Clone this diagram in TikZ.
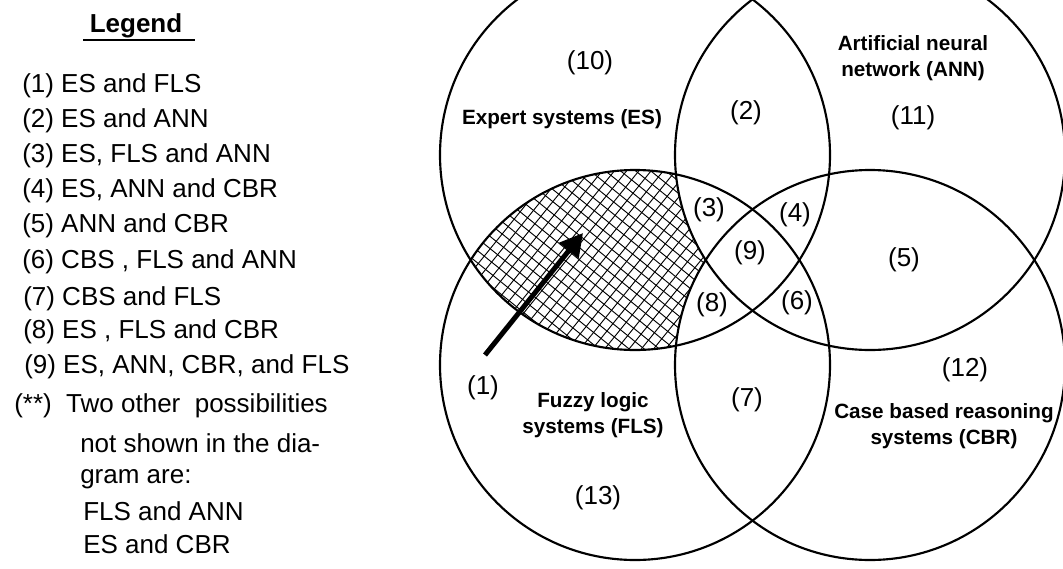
\documentclass[tikz,border=0pt]{standalone}
\usepackage{fontspec}
\setmainfont{Liberation Sans}
\usetikzlibrary{arrows.meta}
\begin{document}
\begin{tikzpicture}[x=0.75pt,y=-0.75pt,
  setcircle/.style={draw=black, line width=1.6pt},
  region/.style={font=\fontsize{19.5}{23}\selectfont, inner sep=0pt},
  setname/.style={font=\bfseries\fontsize{15.5}{19.5}\selectfont, align=center, inner sep=0pt},
  legendline/.style={font=\fontsize{19.5}{23}\selectfont, anchor=base west, inner sep=0pt},
  hatchline/.style={line width=0.7pt},
]
\useasboundingbox (0,0) rectangle (1063,568);
\def\R{146.25pt}
\coordinate (ES)  at (635,155);
\coordinate (ANN) at (870,155);
\coordinate (FLS) at (635,365);
\coordinate (CBR) at (870,365);

% cross-hatched part shared only by ES and FLS
\begin{scope}
  \clip (ES) circle (\R);
  \clip (FLS) circle (\R);
  \begin{scope}[shift={(640,260)}, rotate=-39]
    \foreach \i in {-35,...,35} {
      \draw[hatchline] (\i*9.5,-300) -- (\i*9.5,300);
      \draw[hatchline] (-300,\i*9.5) -- (300,\i*9.5);
    }
  \end{scope}
  \fill[white] (ANN) circle (\R);
  \fill[white] (CBR) circle (\R);
\end{scope}

% the four sets
\foreach \c in {ES,ANN,FLS,CBR}
  \draw[setcircle] (\c) circle (\R);

% arrow pointing into the hatched area
\coordinate (arrowtail) at (485,355);
\coordinate (arrowtip)  at (583,233);
\draw[line width=3.75pt, -{Triangle[length=17pt,width=18pt]}] (arrowtail) -- (arrowtip);

% set names
\node[setname] (nES)  at (562,119) {Expert systems (ES)};
\node[setname] (nANN) at (913,58)  {Artificial neural\\network (ANN)};
\node[setname] (nFLS) at (593,415) {Fuzzy logic\\systems (FLS)};
\node[setname] (nCBR) at (944,426) {Case based reasoning\\systems (CBR)};

% region numbers
\node[region] (r1)  at (483,388) {(1)};
\node[region] (r2)  at (746,113) {(2)};
\node[region] (r3)  at (709,210) {(3)};
\node[region] (r4)  at (795,215) {(4)};
\node[region] (r5)  at (904,260) {(5)};
\node[region] (r6)  at (797,303) {(6)};
\node[region] (r7)  at (747,400) {(7)};
\node[region] (r8)  at (712,305) {(8)};
\node[region] (r9)  at (750,253) {(9)};
\node[region] (r10) at (590,63)  {(10)};
\node[region] (r11) at (913,118) {(11)};
\node[region] (r12) at (965,370) {(12)};
\node[region] (r13) at (598,498) {(13)};

% legend
\node[font=\bfseries\fontsize{19.5}{23}\selectfont, anchor=base, inner sep=0pt] (legendtitle) at (136,32) {Legend};
\draw[line width=1.1pt] (83,40) -- (195,40);
\node[legendline] (l1)  at (22,92)  {(1) ES and FLS};
\node[legendline] (l2)  at (22,127) {(2) ES and ANN};
\node[legendline] (l3)  at (22,162) {(3) ES, FLS and ANN};
\node[legendline] (l4)  at (22,197) {(4) ES, ANN and CBR};
\node[legendline] (l5)  at (22,232) {(5) ANN and CBR};
\node[legendline] (l6)  at (22,268) {(6) CBS , FLS and ANN};
\node[legendline] (l7)  at (23,305) {(7) CBS and FLS};
\node[legendline] (l8)  at (23,338) {(8) ES , FLS and CBR};
\node[legendline] (l9)  at (24,373) {(9) ES, ANN, CBR, and FLS};
\node[legendline] (l10) at (14,412) {(**)\ \ Two other\ \ possibilities};
\node[legendline] (l11) at (80,452) {not shown in the dia-};
\node[legendline] (l12) at (80,483) {gram are:};
\node[legendline] (l13) at (83,520) {FLS and ANN};
\node[legendline] (l14) at (83,553) {ES and CBR};
\end{tikzpicture}
\end{document}
